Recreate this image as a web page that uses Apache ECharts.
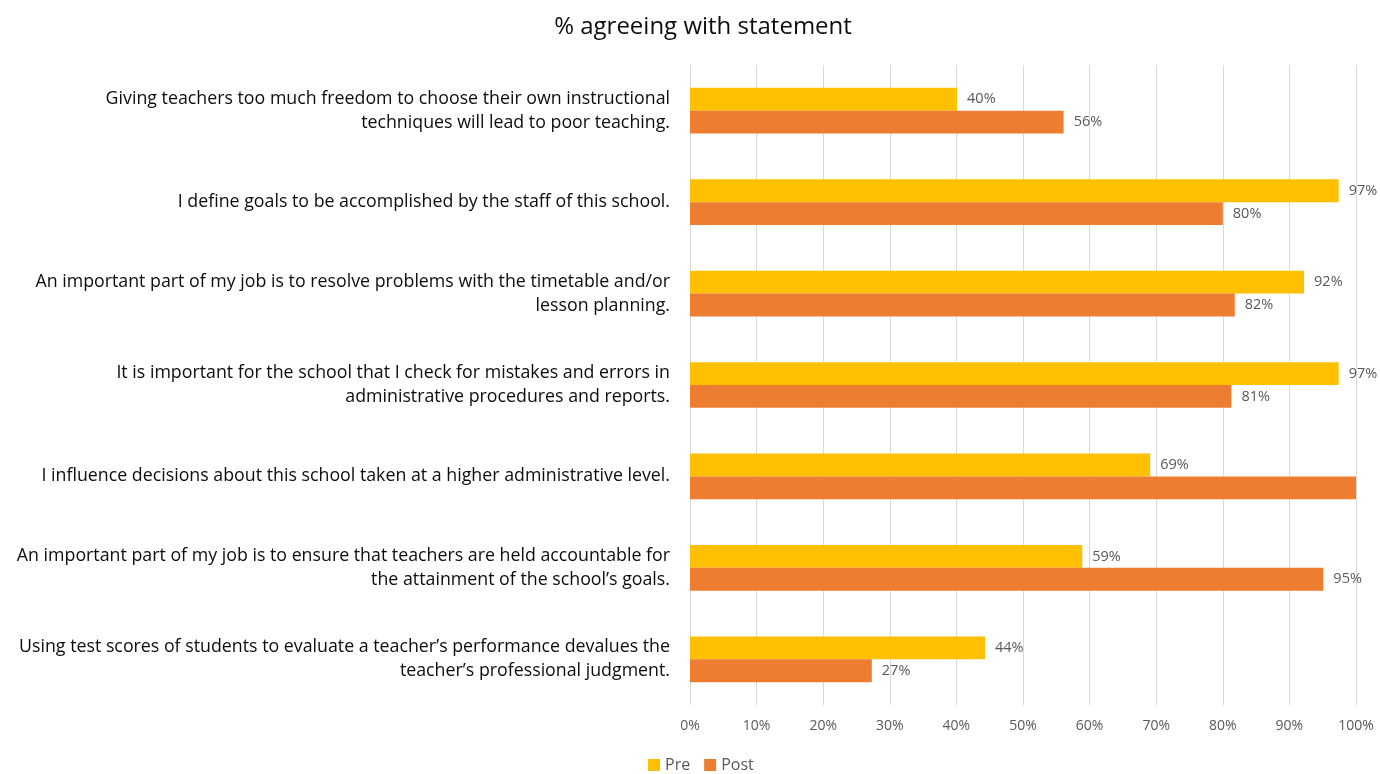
<!DOCTYPE html>
<html><head><meta charset="utf-8">
<script src="https://cdn.jsdelivr.net/npm/echarts@6/dist/echarts.min.js"></script>
<style>html,body{margin:0;padding:0;background:#fff}#c{width:1380px;height:774px}</style>
</head><body><div id="c"></div>
<script>
const categories = [
  "Giving teachers too much freedom to choose their own instructional\ntechniques will lead to poor teaching.",
  "I define goals to be accomplished by the staff of this school.",
  "An important part of my job is to resolve problems with the timetable and/or\nlesson planning.",
  "It is important for the school that I check for mistakes and errors in\nadministrative procedures and reports.",
  "I influence decisions about this school taken at a higher administrative level.",
  "An important part of my job is to ensure that teachers are held accountable for\nthe attainment of the school\u2019s goals.",
  "Using test scores of students to evaluate a teacher\u2019s performance devalues the\nteacher\u2019s professional judgment."
];
const preValues = [40.1, 97.4, 92.2, 97.4, 69.1, 58.9, 44.3];
const postValues = [56.1, 80.0, 81.8, 81.3, 100, 95.1, 27.3];
const xTicks = [0, 10, 20, 30, 40, 50, 60, 70, 80, 90, 100];
const hiddenLabel = [false, false, false, false, true, false, false];

const font = '"Open Sans", sans-serif';
const chart = echarts.init(document.getElementById('c'));
function mk(vals, hide){
  return vals.map((v,i)=>({value:v, label:{show:!hide[i]}}));
}
chart.setOption({
  animation:false,
  textStyle:{fontFamily:font},
  title:{text:'% agreeing with statement', left:698, top:10, textAlign:'center',
    textStyle:{fontFamily:font, fontSize:24, fontWeight:'normal', color:'#0d0d0d'}},
  legend:{top:757, left:648, itemWidth:12, itemHeight:12, itemGap:14, padding:0,
    icon:'rect', textStyle:{fontFamily:font, fontSize:16, color:'#595959'},
    data:['Pre','Post']},
  grid:{left:690, right:24, top:65, bottom:69, containLabel:false},
  xAxis:{type:'value', min:xTicks[0], max:xTicks[xTicks.length-1], interval:10,
    axisLabel:{formatter:'{value}%', fontFamily:font, fontSize:14, color:'#595959', margin:14},
    axisLine:{show:false}, axisTick:{show:false},
    splitLine:{lineStyle:{color:'#d9d9d9', width:1}}},
  yAxis:{type:'category', data:categories, inverse:true,
    axisLine:{show:false}, axisTick:{show:false},
    axisLabel:{fontFamily:font, fontSize:17.8, color:'#0d0d0d', margin:20, lineHeight:24, align:'right'}},
  series:[
    {name:'Pre', type:'bar', data:mk(preValues,[0,0,0,0,0,0,0]), itemStyle:{color:'#FFC000'},
      barGap:'0%', barCategoryGap:'50%',
      label:{show:true, position:'right', distance:10, color:'#595959', fontFamily:font, fontSize:14.5,
        formatter:p=>Math.round(p.value)+'%'}},
    {name:'Post', type:'bar', data:mk(postValues,hiddenLabel), itemStyle:{color:'#ED7D31'},
      barGap:'0%', barCategoryGap:'50%',
      label:{position:'right', distance:10, color:'#595959', fontFamily:font, fontSize:14.5,
        formatter:p=>Math.round(p.value)+'%'}}
  ]
});
</script></body></html>
